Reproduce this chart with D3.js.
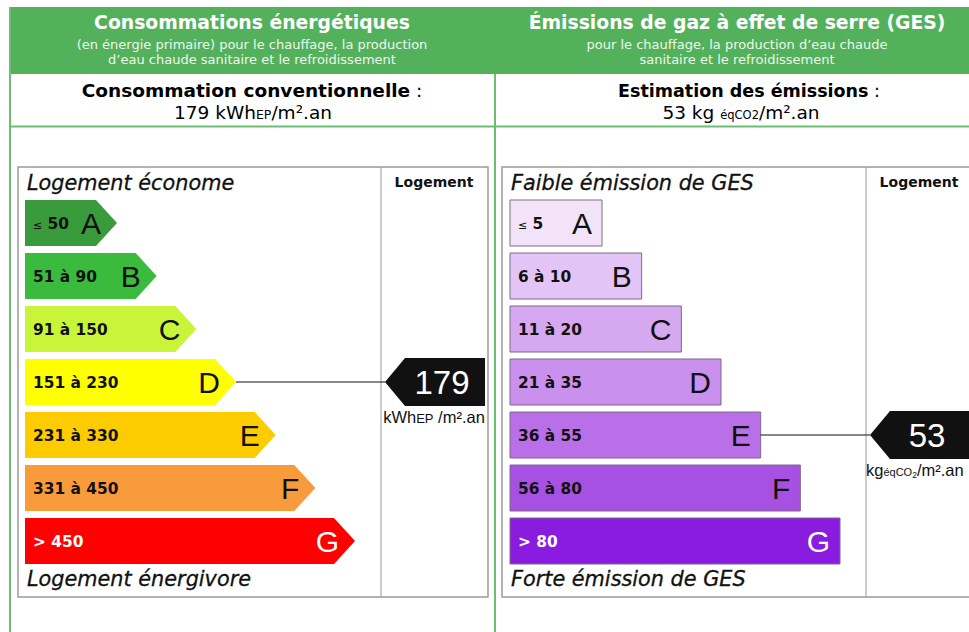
<!DOCTYPE html>
<html>
<head>
<meta charset="utf-8">
<style type="text/css">
    body { margin: 0; background: #fff; }
    svg { display: block; }
    text { font-family: "DejaVu Sans", Verdana, sans-serif; }
    .arial { font-family: "Liberation Sans", Arial, sans-serif; }
</style>
</head>
<body>
<svg width="969" height="632"></svg>
<script src="https://cdn.jsdelivr.net/npm/d3@7/dist/d3.min.js"></script>
<script type="text/javascript">

    // classes et seuils
    let classes = [`A`, `B`, `C`, `D`, `E`, `F`, `G`];
    let energyRanges = [`≤`, `51 à 90`, `91 à 150`, `151 à 230`, `231 à 330`, `331 à 450`, `> 450`];
    let energyUpper = [50, 90, 150, 230, 330, 450, Infinity];
    let energyColors = [`#3a9b3c`, `#3bbb3e`, `#c8f53a`, `#ffff00`, `#fccc00`, `#f99b3b`, `#ff0000`];
    let gesRanges = [`≤`, `6 à 10`, `11 à 20`, `21 à 35`, `36 à 55`, `56 à 80`, `> 80`];
    let gesUpper = [5, 10, 20, 35, 55, 80, Infinity];
    let gesColors = [`#f2e3f8`, `#e3c4f6`, `#d5a8f0`, `#ca90ee`, `#b86fe8`, `#a751e3`, `#8a1ce0`];
    let energyValue = 179;
    let gesValue = 53;

    var svg = d3.select("svg");
    var green = "#53b15b", lineGreen = "#6cbf70", boxGrey = "#9a9a9a";

    // bandeau vert
    svg.append("rect").attr("x", 9).attr("y", 7).attr("width", 960).attr("height", 67).attr("fill", green);

    // cadre vert
    svg.append("line").attr("x1", 10).attr("x2", 10).attr("y1", 7).attr("y2", 632)
        .attr("stroke", lineGreen).attr("stroke-width", 2);
    svg.append("line").attr("x1", 495).attr("x2", 495).attr("y1", 74).attr("y2", 632)
        .attr("stroke", lineGreen).attr("stroke-width", 2);
    svg.append("line").attr("x1", 9).attr("x2", 969).attr("y1", 126.5).attr("y2", 126.5)
        .attr("stroke", lineGreen).attr("stroke-width", 2);

    // en-tetes
    function header(cx, title, sub1, sub2) {
        svg.append("text").attr("x", cx).attr("y", 29).attr("text-anchor", "middle")
            .attr("fill", "#fff").attr("font-weight", "bold").attr("font-size", 18.8).text(title);
        svg.append("text").attr("x", cx).attr("y", 49).attr("text-anchor", "middle")
            .attr("fill", "#eef7ee").attr("font-size", 13).text(sub1);
        svg.append("text").attr("x", cx).attr("y", 64).attr("text-anchor", "middle")
            .attr("fill", "#eef7ee").attr("font-size", 13).text(sub2);
    }
    header(252, `Consommations énergétiques`,
        `(en énergie primaire) pour le chauffage, la production`,
        `d’eau chaude sanitaire et le refroidissement`);
    header(737, `Émissions de gaz à effet de serre (GES)`,
        `pour le chauffage, la production d’eau chaude`,
        `sanitaire et le refroidissement`);

    var t1 = svg.append("text").attr("x", 252).attr("y", 97).attr("text-anchor", "middle").attr("font-size", 18.5);
    t1.append("tspan").attr("font-weight", "bold").text(`Consommation conventionnelle`);
    t1.append("tspan").text(` :`);
    var t2 = svg.append("text").attr("x", 253).attr("y", 119).attr("text-anchor", "middle").attr("font-size", 18.5);
    t2.append("tspan").text(energyValue + ` kWh`);
    t2.append("tspan").attr("font-size", 12.5).text(`EP`);
    t2.append("tspan").text(`/m².an`);

    var t3 = svg.append("text").attr("x", 749).attr("y", 97).attr("text-anchor", "middle").attr("font-size", 17.5);
    t3.append("tspan").attr("font-weight", "bold").text(`Estimation des émissions`);
    t3.append("tspan").text(` :`);
    var t4 = svg.append("text").attr("x", 741).attr("y", 119).attr("text-anchor", "middle").attr("font-size", 18.5);
    t4.append("tspan").text(gesValue + ` kg `);
    t4.append("tspan").attr("font-size", 11.5).text(`éqCO2`);
    t4.append("tspan").text(`/m².an`);

    var y = d3.scaleBand().domain(classes).range([200, 564]).paddingInner(7 / 53);
    var w = d3.scaleLinear().domain([0, 6]).range([92, 330]);

    function classOf(v, uppers) {
        for (var i = 0; i < uppers.length; i++) {
            if (v <= uppers[i]) return classes[i];
        }
    }

    function panel(opt) {
        var g = svg.append("g");
        // boite grise
        g.append("rect").attr("x", opt.boxX).attr("y", 167).attr("width", opt.boxW).attr("height", 430)
            .attr("fill", "#fff").attr("stroke", boxGrey).attr("stroke-width", 1.5);
        g.append("line").attr("x1", opt.colX).attr("x2", opt.colX).attr("y1", 167).attr("y2", 597)
            .attr("stroke", boxGrey).attr("stroke-width", 1);
        g.append("text").attr("x", opt.colX + 53).attr("y", 187).attr("text-anchor", "middle")
            .attr("font-weight", "bold").attr("font-size", 14).attr("fill", "#111").text(`Logement`);
        g.append("text").attr("x", opt.boxX + 9).attr("y", 190).attr("font-style", "italic")
            .attr("font-size", 20.8).attr("fill", "#111").attr("stroke", "#111").attr("stroke-width", 0.3)
            .text(opt.top);
        g.append("text").attr("x", opt.boxX + 9).attr("y", 586).attr("font-style", "italic")
            .attr("font-size", 20.8).attr("fill", "#111").attr("stroke", "#111").attr("stroke-width", 0.3)
            .text(opt.bottom);

        var bars = g.selectAll("g.bar").data(classes).enter().append("g").attr("class", "bar");
        var h = y.bandwidth();
        bars.append("path")
            .attr("d", function(d, i) {
                var x0 = opt.x0, y0 = y(d), x1 = opt.x0 + w(i);
                if (opt.tip) {
                    return "M" + x0 + "," + y0 + "H" + (x1 - opt.tip) + "L" + x1 + "," + (y0 + h / 2)
                        + "L" + (x1 - opt.tip) + "," + (y0 + h) + "H" + x0 + "Z";
                }
                return "M" + x0 + "," + y0 + "H" + x1 + "V" + (y0 + h) + "H" + x0 + "Z";
            })
            .attr("fill", function(d, i) { return opt.colors[i]; })
            .attr("stroke", opt.tip ? "none" : "#7b6c82")
            .attr("stroke-width", 1);

        bars.each(function(d, i) {
            var b = d3.select(this);
            var fg = i == 6 ? "#fff" : "#111";
            var lab = b.append("text").attr("x", opt.x0 + 8).attr("y", y(d) + h / 2 + 5.5)
                .attr("font-weight", "bold").attr("font-size", 15.4).attr("fill", fg);
            if (i == 0) {
                lab.append("tspan").attr("font-size", 11).attr("font-weight", "normal").text(opt.ranges[0]);
                lab.append("tspan").text(` ` + opt.firstBound);
            } else {
                lab.text(opt.ranges[i]);
            }
            b.append("text").attr("class", "arial")
                .attr("x", opt.x0 + w(i) - opt.letterPad).attr("y", y(d) + h / 2 + 11)
                .attr("text-anchor", "end").attr("font-size", 30).attr("fill", fg).text(d);
        });

        // repere de la valeur
        var c = classOf(opt.value, opt.uppers);
        var i = classes.indexOf(c);
        var cy = y(c) + h / 2;
        g.append("line").attr("x1", opt.x0 + w(i)).attr("x2", opt.markX).attr("y1", cy).attr("y2", cy)
            .attr("stroke", "#111").attr("stroke-width", 1.2);
        g.append("path")
            .attr("d", "M" + opt.markX + "," + cy + "L" + (opt.markX + 20) + "," + (cy - 24) + "H" + (opt.markX + 100)
                + "V" + (cy + 24) + "H" + (opt.markX + 20) + "Z")
            .attr("fill", "#111");
        g.append("text").attr("class", "arial").attr("x", opt.markX + 57).attr("y", cy + 11.5)
            .attr("text-anchor", "middle").attr("font-size", 33).attr("fill", "#fff").text(opt.value);
        var u = g.append("text").attr("class", "arial").attr("x", opt.colX + 53).attr("y", cy + 41)
            .attr("text-anchor", "middle").attr("font-size", 16.5).attr("fill", "#111");
        opt.unit(u);
    }

    panel({
        boxX: 18, boxW: 470, colX: 381, x0: 25, tip: 21, letterPad: 16,
        top: `Logement économe`, bottom: `Logement énergivore`,
        ranges: energyRanges, firstBound: `50`, colors: energyColors,
        uppers: energyUpper, value: energyValue, markX: 385,
        unit: function(u) {
            u.append("tspan").text(`kWh`);
            u.append("tspan").attr("font-size", 13).text(`EP`);
            u.append("tspan").text(` /m².an`);
        }
    });

    panel({
        boxX: 502, boxW: 471, colX: 866, x0: 510, tip: 0, letterPad: 10,
        top: `Faible émission de GES`, bottom: `Forte émission de GES`,
        ranges: gesRanges, firstBound: `5`, colors: gesColors,
        uppers: gesUpper, value: gesValue, markX: 870,
        unit: function(u) {
            u.attr("font-size", 16.5).attr("x", 866).attr("text-anchor", "start");
            u.append("tspan").text(`kg`);
            u.append("tspan").attr("font-size", 11).text(`éqCO`);
            u.append("tspan").attr("font-size", 8.5).attr("dy", 2).text(`2`);
            u.append("tspan").attr("dy", -2).text(`/m².an`);
        }
    });

</script>
</body>
</html>
